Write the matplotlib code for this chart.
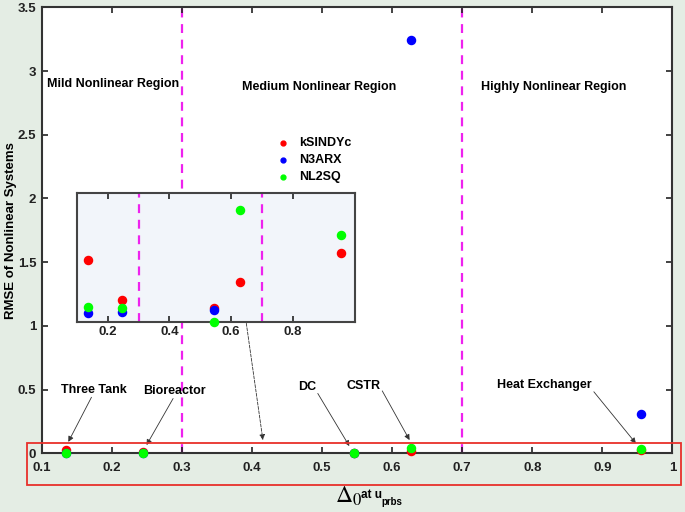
import numpy as np
import matplotlib.pyplot as plt
from matplotlib.patches import Rectangle

plt.rcParams['font.family'] = ['Liberation Sans', 'DejaVu Sans']
plt.rcParams['mathtext.fontset'] = 'stix'

# delta_0 of each system and RMSE of the three methods
systems = ['Three Tank', 'Bioreactor', 'DC', 'CSTR', 'Heat Exchanger']
delta = [0.135, 0.245, 0.545, 0.627, 0.955]
ksindyc = [0.024, 0.0086, 0.0055, 0.0155, 0.027]
n3arx = [0.0037, 0.0041, 0.0048, 3.24, 0.31]
nl2sq = [0.006, 0.0055, 0.0, 0.0437, 0.034]

xticks = [0.1, 0.2, 0.3, 0.4, 0.5, 0.6, 0.7, 0.8, 0.9, 1.0]
xticklabels = ['0.1', '0.2', '0.3', '0.4', '0.5', '0.6', '0.7', '0.8', '0.9', '1']
yticks = [0, 0.5, 1, 1.5, 2, 2.5, 3, 3.5]
yticklabels = ['0', '0.5', '1', '1.5', '2', '2.5', '3', '3.5']

bg = '#e4ede4'
fig = plt.figure(figsize=(6.85, 5.12), dpi=100, facecolor=bg)
ax = fig.add_axes([0.0609, 0.1146, 0.9206, 0.8711])

def style(a):
    a.tick_params(direction='in', top=True, right=True, length=4, width=1.2,
                  labelsize=9.5, colors='#222222', pad=3)
    for s in a.spines.values():
        s.set_linewidth(1.5)
        s.set_color('#333333')
    for lab in a.get_xticklabels() + a.get_yticklabels():
        lab.set_fontweight('bold')

ms = 34
ax.scatter(delta, ksindyc, s=ms, color='red', label='kSINDYc', zorder=3, clip_on=False)
ax.scatter(delta, n3arx, s=ms, color='blue', label='N3ARX', zorder=3, clip_on=False)
ax.scatter(delta, nl2sq, s=ms, color='lime', label='NL2SQ', zorder=3, clip_on=False)
for xv in [0.3, 0.7]:
    ax.axvline(xv, color='#ee22ee', ls=(0, (4, 3)), lw=1.6, zorder=1)
ax.set_xlim(0.1, 1.0)
ax.set_ylim(0, 3.5)
ax.set_xticks(xticks)
ax.set_xticklabels(xticklabels)
ax.set_yticks(yticks)
ax.set_yticklabels(yticklabels)
style(ax)
ax.tick_params(axis='x', pad=6)
ax.tick_params(axis='y', pad=4)

ax.text(0.1075, 2.9, 'Mild Nonlinear Region', fontsize=9, fontweight='bold', va='center')
ax.text(0.496, 2.875, 'Medium Nonlinear Region', fontsize=9, fontweight='bold', va='center', ha='center')
ax.text(0.830, 2.875, 'Highly Nonlinear Region', fontsize=9, fontweight='bold', va='center', ha='center')

# annotations: label pos, arrow start, arrow tip
ann_text = [(0.1745, 0.5), (0.29, 0.49), (0.479, 0.52), (0.559, 0.53), (0.818, 0.54)]
ann_start = [(0.171, 0.44), (0.2875, 0.43), (0.494, 0.47), (0.586, 0.49), (0.888, 0.483)]
ann_tip = [(0.138, 0.09), (0.2496, 0.065), (0.539, 0.057), (0.625, 0.104), (0.948, 0.078)]
for name, tp, st, tip in zip(systems, ann_text, ann_start, ann_tip):
    ax.text(tp[0], tp[1], name, fontsize=9, fontweight='bold', ha='center', va='center')
    ax.annotate('', xy=tip, xytext=st,
                arrowprops=dict(arrowstyle='-|>', color='#333333', lw=0.6,
                                mutation_scale=8, shrinkA=0, shrinkB=0))
ax.annotate('', xy=(0.4157, 0.104), xytext=(0.392, 1.02),
            arrowprops=dict(arrowstyle='-|>', color='#333333', lw=0.6, ls='--',
                            mutation_scale=8, shrinkA=0, shrinkB=0))

ax.set_ylabel('RMSE of Nonlinear Systems', fontsize=9.5, fontweight='bold')
ax.yaxis.set_label_coords(-0.039, 0.5)

leg = ax.legend(loc='upper left', bbox_to_anchor=(264 / 685, 1 - 131 / 512),
                bbox_transform=fig.transFigure, frameon=False, fontsize=9,
                handletextpad=0.3, labelspacing=0.4, markerscale=0.6, borderpad=0)
for t in leg.get_texts():
    t.set_fontweight('bold')

fig.text(335 / 685, 1 - 503 / 512, r'$\Delta_0$', fontsize=17, ha='left', va='baseline')
fig.text(361 / 685, 1 - 498 / 512, 'at u', fontsize=8.5,
         fontweight='bold', ha='left', va='baseline')
fig.text(381 / 685, 1 - 505 / 512, 'prbs', fontsize=7,
         fontweight='bold', ha='left', va='baseline')

# inset zoom on small errors
axin = fig.add_axes([0.112, 0.3705, 0.406, 0.252], facecolor='#f2f5fa')
axin.scatter(delta, ksindyc, s=ms, color='red', zorder=3, clip_on=False)
axin.scatter(delta, n3arx, s=ms, color='blue', zorder=3)
axin.scatter(delta, nl2sq, s=ms, color='lime', zorder=3, clip_on=False)
for xv in [0.3, 0.7]:
    axin.axvline(xv, color='#ee22ee', ls=(0, (4, 3)), lw=1.6, zorder=1)
axin.set_xlim(0.1, 1.0)
axin.set_ylim(0, 0.05)
axin.set_xticks([0.2, 0.4, 0.6, 0.8])
axin.set_yticks([])
style(axin)
for s in axin.spines.values():
    s.set_color('#444444')

fig.patches.append(Rectangle((0.039, 0.0527), 0.9547, 0.0815, transform=fig.transFigure,
                             fill=False, edgecolor='#e8302a', lw=1.3, zorder=10))

fig.savefig('out.png', dpi=100, facecolor=bg)
